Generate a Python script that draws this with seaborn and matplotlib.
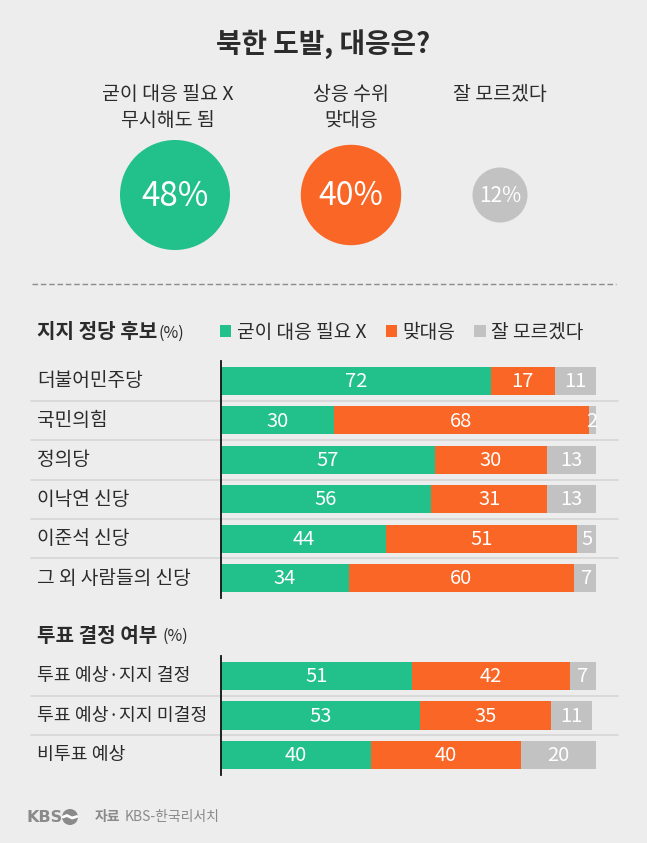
import numpy as np
import pandas as pd
import matplotlib
matplotlib.use("Agg")
import matplotlib.pyplot as plt
import matplotlib.transforms as mtransforms
from matplotlib.patches import Patch, Circle
import seaborn as sns

# ---------------- data ----------------
title = "북한 도발, 대응은?"
overall_labels = ["굳이 대응 필요 X\n무시해도 됨", "상응 수위\n맞대응", "잘 모르겠다"]
overall_values = [48, 40, 12]

series_names = ["굳이 대응 필요 X", "맞대응", "잘 모르겠다"]

party_header = "지지 정당 후보"
party_cats = ["더불어민주당", "국민의힘", "정의당", "이낙연 신당", "이준석 신당", "그 외 사람들의 신당"]
party_ignore = [72, 30, 57, 56, 44, 34]
party_counter = [17, 68, 30, 31, 51, 60]
party_unsure = [11, 2, 13, 13, 5, 7]

vote_header = "투표 결정 여부"
vote_cats = ["투표 예상·지지 결정", "투표 예상·지지 미결정", "비투표 예상"]
vote_ignore = [51, 53, 40]
vote_counter = [42, 35, 40]
vote_unsure = [7, 11, 20]

source_label = "자료"
source_text = "KBS-한국리서치"

# ---------------- style ----------------
W, H = 647, 843
BG = "#EDEDED"
GREEN = "#22C08A"
ORANGE = "#F96626"
GRAY = "#C2C2C2"
TXT = "#2B2B2B"
SEP = "#D6D6D6"
colors = [GREEN, ORANGE, GRAY]

sns.set_style("white")
plt.rcParams["font.family"] = ["Noto Sans CJK KR", "DejaVu Sans"]

fig = plt.figure(figsize=(W / 100, H / 100), dpi=100, facecolor=BG)

# overlay axes in pixel coordinates
ov = fig.add_axes([0, 0, 1, 1])
ov.set_xlim(0, W)
ov.set_ylim(H, 0)
ov.axis("off")
ov.set_facecolor("none")

ov.text(W / 2, 44, title, ha="center", va="center", fontsize=20,
        fontweight="bold", color=TXT)

# circles (area proportional to value)
circle_x = [175, 351, 500]
circle_y = 195
df_c = pd.DataFrame({"x": circle_x, "y": [circle_y] * 3,
                     "v": overall_values, "cat": series_names})
sns.scatterplot(data=df_c, x="x", y="y", size="v", sizes=(0, 6273),
                size_norm=(0, 48), hue="cat",
                palette=dict(zip(series_names, colors)), linewidth=0,
                legend=False, ax=ov, zorder=3)
ov.set_xlim(0, W)
ov.set_ylim(H, 0)
ov.axis("off")

pct_sizes = [24, 23, 15]
for x, v, fs in zip(circle_x, overall_values, pct_sizes):
    ov.text(x, circle_y + 1, f"{v}%", ha="center", va="center", fontsize=fs,
            color="white", zorder=4)

label_x = [168, 351, 500]
for x, lab in zip(label_x, overall_labels):
    for k, line in enumerate(lab.split("\n")):
        ov.text(x, 95 + 26 * k, line, ha="center", va="center", fontsize=14,
                color=TXT)

# dashed separator
ov.plot([32, 616], [284, 284], color="#8C8C8C", lw=1, dashes=(4, 2))

renderer = fig.canvas.get_renderer()


def header(y, text, gap):
    t = ov.text(37, y, text, ha="left", va="center", fontsize=14.5,
                fontweight="bold", color=TXT)
    bb = t.get_window_extent(renderer=renderer)
    ov.text(bb.x1 + gap, y + 1, "(%)", ha="left", va="center", fontsize=11.5,
            color=TXT)


header(332, party_header, 1)
header(635, vote_header, 5)


def stacked(ax, cats, a, b, c, label_fs):
    df = pd.DataFrame({"cat": cats, "a": a, "b": b, "c": c})
    df["ab"] = df["a"] + df["b"]
    df["abc"] = df["ab"] + df["c"]
    for col, colr in zip(["abc", "ab", "a"], [GRAY, ORANGE, GREEN]):
        sns.barplot(data=df, x=col, y="cat", order=cats, color=colr,
                    saturation=1, width=0.71, errorbar=None, orient="h",
                    ax=ax, linewidth=0)
    n = len(cats)
    ax.set_xlim(0, 100)
    ax.set_ylim(n - 0.5, -0.5)
    ax.set_facecolor("none")
    ax.set_xlabel("")
    ax.set_ylabel("")
    ax.set_xticks([])
    ax.set_yticks([])
    for s in ["top", "right", "bottom"]:
        ax.spines[s].set_visible(False)
    ax.spines["left"].set_color("#111111")
    ax.spines["left"].set_linewidth(1.3)
    ax.spines["left"].set_zorder(5)
    blend = mtransforms.blended_transform_factory(fig.transFigure, ax.transData)
    for i, row in df.iterrows():
        ax.text(37 / W, i, row["cat"], transform=blend, ha="left",
                va="center", fontsize=label_fs, color=TXT)
        left = 0
        for v in [row["a"], row["b"], row["c"]]:
            ax.text(left + v / 2, i + 0.02, str(v), ha="center", va="center",
                    fontsize=14.5, color="white", clip_on=False, zorder=6)
            left += v
    for i in range(n - 1):
        ax.plot([31 / W, 618 / W], [i + 0.5, i + 0.5], transform=blend,
                color=SEP, lw=1.2, clip_on=False)


ax1 = fig.add_axes([221 / W, 1 - 597.7 / H, 375 / W, 236.4 / H])
stacked(ax1, party_cats, party_ignore, party_counter, party_unsure, 13.8)

ax2 = fig.add_axes([221 / W, 1 - 774.75 / H, 375 / W, 118.5 / H])
stacked(ax2, vote_cats, vote_ignore, vote_counter, vote_unsure, 13.2)

# legend
handles = [Patch(facecolor=c_, edgecolor="none") for c_ in colors]
fig.legend(handles, series_names, ncol=3, loc="center left",
           bbox_to_anchor=(220 / W, 1 - 332 / H), frameon=False,
           fontsize=13.8, handlelength=0.58, handleheight=0.58,
           handletextpad=0.3, columnspacing=1.0, borderpad=0,
           borderaxespad=0, labelcolor=TXT)

# footer
FOOT = "#8A8A8A"
ov.text(27, 817, "KBS", ha="left", va="center", fontsize=11.5,
        fontweight="bold", color=FOOT, family=["DejaVu Sans"])
ov.add_patch(Circle((70, 817), 8, facecolor=FOOT, edgecolor="none"))
ov.plot([63, 67, 72, 77], [817, 815.5, 818, 816.5], color="white", lw=2,
        solid_capstyle="round")
t = ov.text(95, 817, source_label, ha="left", va="center", fontsize=10,
            fontweight="bold", color=FOOT)
bb = t.get_window_extent(renderer=renderer)
ov.text(bb.x1 + 4, 817, source_text, ha="left", va="center", fontsize=10,
        color=FOOT)

fig.savefig("out.png", dpi=100, facecolor=BG)
